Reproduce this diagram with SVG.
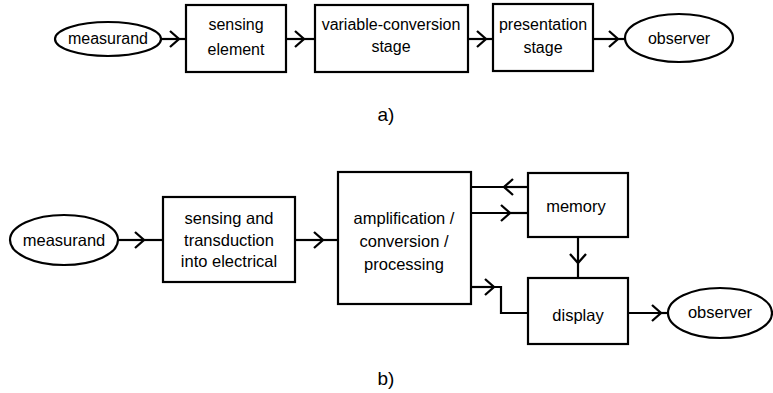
<svg xmlns="http://www.w3.org/2000/svg" width="773" height="393" viewBox="0 0 773 393">
<defs>
<marker id="chev" markerUnits="userSpaceOnUse" markerWidth="24" markerHeight="24" refX="12" refY="12" orient="auto" viewBox="0 0 24 24">
<path d="M3 4 L12 12 L3 20" fill="none" stroke="#000" stroke-width="2.3"/>
</marker>
</defs>
<style>
.box{fill:#fff;stroke:#000;stroke-width:2.2}
.ell{fill:#fff;stroke:#000;stroke-width:2.2}
.ln{fill:none;stroke:#000;stroke-width:2.2}
text{font-family:"Liberation Sans",Arial,sans-serif;fill:#000;text-anchor:middle}
.a{font-size:16px}
.b{font-size:16.5px}
.lab{font-size:19px}
</style>
<rect width="773" height="393" fill="#fff"/>
<g id="connectors">
<path class="ln" d="M161 39 H179" marker-end="url(#chev)"/><path class="ln" d="M179 39 H186"/>
<path class="ln" d="M286 39 H304" marker-end="url(#chev)"/><path class="ln" d="M304 39 H315"/>
<path class="ln" d="M468 39 H486" marker-end="url(#chev)"/><path class="ln" d="M486 39 H493"/>
<path class="ln" d="M593 39 H618" marker-end="url(#chev)"/><path class="ln" d="M618 39 H625"/>
<path class="ln" d="M118 240 H144" marker-end="url(#chev)"/><path class="ln" d="M144 240 H163"/>
<path class="ln" d="M295 240 H323" marker-end="url(#chev)"/><path class="ln" d="M323 240 H338"/>
<path class="ln" d="M528 187 H504" marker-end="url(#chev)"/><path class="ln" d="M504 187 H471"/>
<path class="ln" d="M471 213 H510" marker-end="url(#chev)"/><path class="ln" d="M510 213 H528"/>
<path class="ln" d="M578 237 V263" marker-end="url(#chev)"/><path class="ln" d="M578 263 V278"/>
<path class="ln" d="M471 287 H494" marker-end="url(#chev)"/><path class="ln" d="M494 287 H501 V313 H528"/>
<path class="ln" d="M628 313 H661" marker-end="url(#chev)"/><path class="ln" d="M661 313 H668"/>
</g>
<g id="a-measurand"><ellipse class="ell" cx="108" cy="39" rx="53" ry="17"/><text class="a" x="108" y="44">measurand</text></g>
<g id="a-sensing"><rect class="box" x="186" y="5" width="100" height="67"/><text class="a" x="236" y="30">sensing</text><text class="a" x="236" y="55">element</text></g>
<g id="a-variable"><rect class="box" x="315" y="5" width="153" height="67"/><text class="a" x="391" y="30">variable-conversion</text><text class="a" x="391" y="52">stage</text></g>
<g id="a-presentation"><rect class="box" x="493" y="4" width="100" height="67"/><text class="a" x="543" y="30">presentation</text><text class="a" x="543" y="53">stage</text></g>
<g id="a-observer"><ellipse class="ell" cx="679" cy="38" rx="54" ry="24"/><text class="a" x="679" y="44">observer</text></g>
<text class="lab" x="386" y="121">a)</text>
<g id="b-measurand"><ellipse class="ell" cx="64" cy="240" rx="54" ry="25"/><text class="b" x="64" y="246">measurand</text></g>
<g id="b-sensing"><rect class="box" x="163" y="197" width="132" height="85"/><text class="b" x="229" y="224">sensing and</text><text class="b" x="229" y="246">transduction</text><text class="b" x="229" y="267">into electrical</text></g>
<g id="b-amplification"><rect class="box" x="338" y="172" width="133" height="132"/><text class="b" x="404" y="224">amplification /</text><text class="b" x="404" y="247">conversion /</text><text class="b" x="404" y="270">processing</text></g>
<g id="b-memory"><rect class="box" x="528" y="173" width="100" height="64"/><text class="b" x="576" y="212">memory</text></g>
<g id="b-display"><rect class="box" x="528" y="278" width="100" height="66"/><text class="b" x="578" y="321">display</text></g>
<g id="b-observer"><ellipse class="ell" cx="720" cy="313" rx="52" ry="25"/><text class="b" x="720" y="318">observer</text></g>
<text class="lab" x="386" y="385">b)</text>
</svg>
